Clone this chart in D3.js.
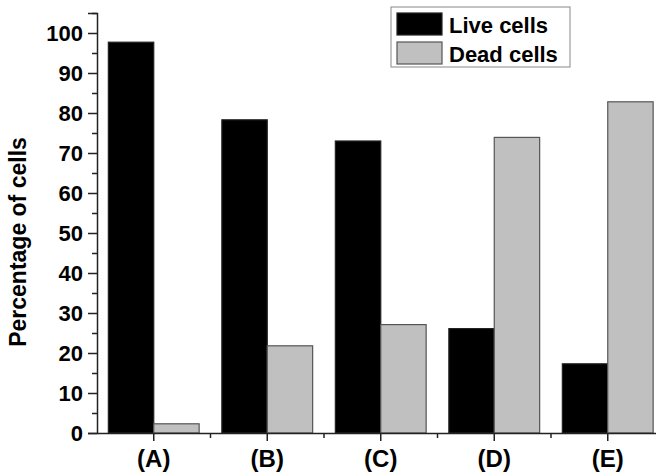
<!DOCTYPE html>
<html>
<head>
<meta charset="utf-8">
<script src="https://cdn.jsdelivr.net/npm/d3@7"></script>
<style>
  body { margin: 0; background: #fff; }
  text { font-family: "Liberation Sans", Arial, sans-serif; font-weight: bold; fill: #000; }
</style>
</head>
<body>
<div id="chart"></div>
<script>
"use strict";

// === Data ===
const groups = ["(A)", "(B)", "(C)", "(D)", "(E)"];
const series = ["Live cells", "Dead cells"];
const liveCells = [97.7, 78.3, 73.0, 26.1, 17.3];
const deadCells = [2.3, 21.8, 27.1, 73.9, 82.8];
const yTicks = [0, 10, 20, 30, 40, 50, 60, 70, 80, 90, 100];

// === SVG setup ===
const svgWidth = 656, svgHeight = 475;
const margin = { top: 13, left: 97, bottom: 42 };
const plotRight = 664.5; // the frame runs past the picture edge

const svg = d3.select("#chart")
  .append("svg")
  .attr("width", svgWidth)
  .attr("height", svgHeight);

// === Scales ===
const x = d3.scaleBand()
  .domain(groups)
  .range([margin.left, plotRight])
  .paddingInner(0.2)
  .paddingOuter(0.1);

const xSub = d3.scaleBand()
  .domain(series)
  .range([0, x.bandwidth()]);

const y = d3.scaleLinear()
  .domain([0, 105])
  .range([svgHeight - margin.bottom, margin.top]);

const colors = { "Live cells": "#000000", "Dead cells": "#c0c0c0" };
const strokes = { "Live cells": "#222", "Dead cells": "#555" };

// === Bars ===
const rows = groups.map((g, i) => ({ group: g, values: [
  { key: "Live cells", value: liveCells[i] },
  { key: "Dead cells", value: deadCells[i] }
] }));

svg.append("g")
  .selectAll("g")
  .data(rows)
  .enter()
  .append("g")
  .attr("transform", d => `translate(${x(d.group)},0)`)
  .selectAll("rect")
  .data(d => d.values)
  .enter()
  .append("rect")
  .attr("x", d => xSub(d.key))
  .attr("y", d => y(d.value))
  .attr("width", xSub.bandwidth())
  .attr("height", d => y(0) - y(d.value))
  .attr("fill", d => colors[d.key])
  .attr("stroke", d => strokes[d.key])
  .attr("stroke-width", 1.2);

// === Axes ===
const axisColor = "#222";

const yAxis = svg.append("g")
  .attr("transform", `translate(${margin.left},0)`)
  .call(d3.axisLeft(y).tickValues(yTicks).tickSize(9).tickPadding(5));
yAxis.selectAll("text").attr("font-size", "22px").attr("dy", "0.36em");

// minor y ticks
svg.append("g")
  .attr("transform", `translate(${margin.left},0)`)
  .call(d3.axisLeft(y).tickValues(d3.range(5, 106, 10)).tickSize(5).tickFormat(""))
  .select(".domain").remove();

const xAxis = svg.append("g")
  .attr("transform", `translate(0,${y(0)})`)
  .call(d3.axisBottom(x).tickSize(8).tickPadding(9).tickSizeOuter(0));
xAxis.selectAll("text").attr("font-size", "24px").attr("dy", "0.71em");

// minor x ticks between groups
svg.append("g")
  .selectAll("line")
  .data(groups)
  .enter()
  .append("line")
  .attr("x1", d => x(d) + x.bandwidth() / 2 + x.step() / 2)
  .attr("x2", d => x(d) + x.bandwidth() / 2 + x.step() / 2)
  .attr("y1", y(0))
  .attr("y2", y(0) + 5)
  .attr("stroke", axisColor)
  .attr("stroke-width", 1.5);

svg.selectAll(".domain, .tick line")
  .attr("stroke", axisColor)
  .attr("stroke-width", 1.5);

// === Axis label ===
svg.append("text")
  .attr("transform", "rotate(-90)")
  .attr("x", -242)
  .attr("y", 26)
  .attr("text-anchor", "middle")
  .attr("font-size", "23px")
  .text("Percentage of cells");

// === Legend ===
const legend = svg.append("g").attr("transform", "translate(391,7)");

legend.append("rect")
  .attr("width", 179)
  .attr("height", 60)
  .attr("fill", "#fff")
  .attr("stroke", "#888")
  .attr("stroke-width", 1);

series.forEach((s, i) => {
  legend.append("rect")
    .attr("x", 6)
    .attr("y", 6 + i * 29)
    .attr("width", 45)
    .attr("height", 22)
    .attr("fill", colors[s])
    .attr("stroke", strokes[s])
    .attr("stroke-width", 1.2);

  legend.append("text")
    .attr("x", 58)
    .attr("y", 26 + i * 29)
    .attr("font-size", "22px")
    .text(s);
});
</script>
</body>
</html>
